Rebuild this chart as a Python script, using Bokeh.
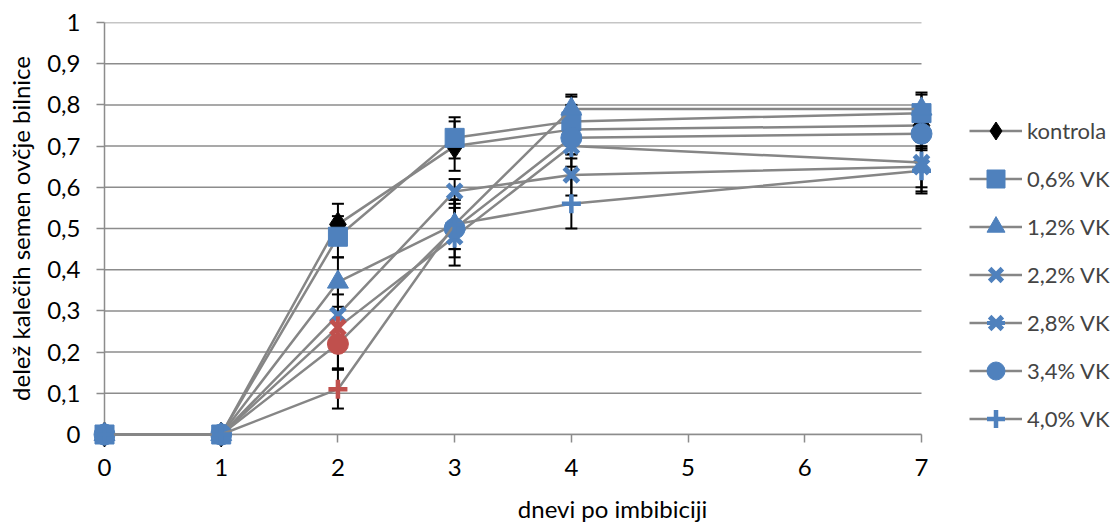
import math
from bokeh.plotting import figure
from bokeh.models import (Range1d, FixedTicker, Legend, LegendItem, ColumnDataSource,
                          CustomJSTickFormatter)
from bokeh.embed import file_html
from bokeh.resources import INLINE

# ---------------- data ----------------
days = [0, 1, 2, 3, 4, 7]
x_ticks = [0, 1, 2, 3, 4, 5, 6, 7]
y_ticks = [0, 0.1, 0.2, 0.3, 0.4, 0.5, 0.6, 0.7, 0.8, 0.9, 1]

series_names = ["kontrola", "0,6% VK", "1,2% VK", "2,2% VK", "2,8% VK", "3,4% VK", "4,0% VK"]

kontrola = [0, 0, 0.51, 0.70, 0.74, 0.75]
vk06 = [0, 0, 0.48, 0.72, 0.76, 0.78]
vk12 = [0, 0, 0.37, 0.51, 0.79, 0.79]
vk22 = [0, 0, 0.29, 0.59, 0.63, 0.65]
vk28 = [0, 0, 0.26, 0.48, 0.70, 0.66]
vk34 = [0, 0, 0.22, 0.50, 0.72, 0.73]
vk40 = [0, 0, 0.11, 0.51, 0.56, 0.64]

err_kontrola = [0, 0, 0.05, 0.06, 0.06, 0.05]
err_vk06 = [0, 0, 0.05, 0.05, 0.06, 0.05]
err_vk12 = [0, 0, 0.06, 0.06, 0.035, 0.035]
err_vk22 = [0, 0, 0.05, 0.03, 0.05, 0.06]
err_vk28 = [0, 0, 0.10, 0.07, 0.05, 0.06]
err_vk34 = [0, 0, 0.06, 0.07, 0.05, 0.04]
err_vk40 = [0, 0, 0.047, 0.06, 0.06, 0.055]

values = [kontrola, vk06, vk12, vk22, vk28, vk34, vk40]
errors = [err_kontrola, err_vk06, err_vk12, err_vk22, err_vk28, err_vk34, err_vk40]

# series whose day-2 point is drawn in red in the original
red_on_day2 = ["2,8% VK", "3,4% VK", "4,0% VK"]

# ---------------- style ----------------
FONT = "Lato"
FS = "24px"
LEG_FS = "22px"
BLUE = "#4F81BD"
RED = "#C0504D"
BLACK = "#000000"
GRAY = "#868686"
GRID = "#8C8C8C"

marker_styles = {
    "kontrola": dict(marker="diamond", size=25, angle=0, base=BLACK, lw=1),
    "0,6% VK": dict(marker="square", size=19, angle=0, base=BLUE, lw=1),
    "1,2% VK": dict(marker="triangle", size=21, angle=0, base=BLUE, lw=1),
    "2,2% VK": dict(marker="x", size=20, angle=0, base=BLUE, lw=5),
    "2,8% VK": dict(marker="x", size=20, angle=0, base=BLUE, lw=5),
    "3,4% VK": dict(marker="circle", size=21, angle=0, base=BLUE, lw=1),
    "4,0% VK": dict(marker="cross", size=19, angle=0, base=BLUE, lw=4.5),
}

X_MAX = x_ticks[-1]
# plot frame extends to the right so that the legend sits inside it;
# grid lines and the x axis are bounded to the data span 0..7
PX_PER_DAY = 817 / X_MAX
x_end = (1120 - 104) / PX_PER_DAY

p = figure(width=1120, height=525, x_range=Range1d(0, x_end), y_range=Range1d(0, 1),
           output_backend="svg", toolbar_location=None,
           min_border_left=104, min_border_right=0, min_border_top=22, min_border_bottom=88)
p.outline_line_color = None
p.background_fill_color = "white"
p.border_fill_color = "white"
p.xgrid.visible = False
p.ygrid.visible = False

grid = p.segment(x0=[0] * len(y_ticks), y0=y_ticks, x1=[X_MAX] * len(y_ticks), y1=y_ticks,
                 line_color=GRID, line_width=1.5)
grid.level = "underlay"

for ax in (p.xaxis, p.yaxis):
    ax.axis_line_color = GRID
    ax.axis_line_width = 1.5
    ax.major_tick_line_color = GRID
    ax.major_tick_line_width = 1.5
    ax.major_tick_in = 0
    ax.major_tick_out = 8
    ax.minor_tick_line_color = None
    ax.major_label_text_font = FONT
    ax.major_label_text_font_size = FS
    ax.major_label_text_color = "black"
    ax.axis_label_text_font = FONT
    ax.axis_label_text_font_size = FS
    ax.axis_label_text_font_style = "normal"
    ax.axis_label_text_color = "black"

p.xaxis.bounds = (0, X_MAX)
p.xaxis.ticker = FixedTicker(ticks=x_ticks)
p.yaxis.ticker = FixedTicker(ticks=y_ticks)
p.yaxis.formatter = CustomJSTickFormatter(
    code="return (Math.round(tick*10)/10).toString().replace('.', ',');")
p.xaxis.formatter = CustomJSTickFormatter(code="return Math.round(tick).toString();")
p.yaxis.major_label_standoff = 16
p.xaxis.major_label_standoff = 16
p.xaxis.axis_label = "dnevi po imbibiciji"
p.yaxis.axis_label = "delež kalečih semen ovčje bilnice"
p.xaxis.axis_label_standoff = 15
p.yaxis.axis_label_standoff = 9

# error bars (under everything)
for name, vals, errs in zip(series_names, values, errors):
    xs = [d for d, e in zip(days, errs) if e > 0]
    lo = [v - e for v, e in zip(vals, errs) if e > 0]
    hi = [v + e for v, e in zip(vals, errs) if e > 0]
    src = ColumnDataSource(dict(x=xs, lo=lo, hi=hi))
    r = p.segment(x0="x", y0="lo", x1="x", y1="hi", source=src, line_color=BLACK, line_width=2)
    r.level = "overlay"
    r = p.scatter(x="x", y="lo", source=src, marker="dash", size=12, line_color=BLACK, line_width=2)
    r.level = "overlay"
    r = p.scatter(x="x", y="hi", source=src, marker="dash", size=12, line_color=BLACK, line_width=2)
    r.level = "overlay"

legend_items = []
for name, vals in zip(series_names, values):
    st = marker_styles[name]
    colors = [RED if (name in red_on_day2 and d == 2) else st["base"] for d in days]
    src = ColumnDataSource(dict(x=days, y=vals, c=colors))
    lr = p.line(x="x", y="y", source=src, line_color=GRAY, line_width=2.5)
    lr.level = "overlay"
    mr = p.scatter(x="x", y="y", source=src, marker=st["marker"], size=st["size"],
                   angle=st["angle"], fill_color="c", line_color="c", line_width=st["lw"])
    mr.level = "overlay"
    rends = [lr, mr]
    if name == "2,8% VK":
        sr = p.scatter(x="x", y="y", source=src, marker="dash", size=22, angle=math.pi / 2,
                       line_color="c", line_width=4)
        sr.level = "overlay"
        rends.append(sr)
    legend_items.append(LegendItem(label=name, renderers=rends))

legend = Legend(items=legend_items, location=(865, -7), padding=0, margin=0, spacing=3,
                glyph_width=53, glyph_height=45, label_height=45, label_standoff=5,
                label_text_font=FONT, label_text_font_size=LEG_FS,
                border_line_color=None, background_fill_alpha=0)
p.add_layout(legend)

open("out.html", "w").write(file_html(p, INLINE))
